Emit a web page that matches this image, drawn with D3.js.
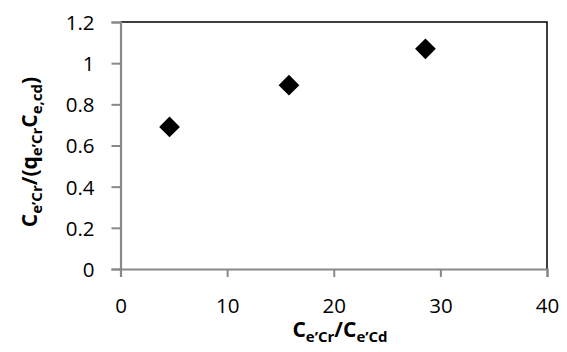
<!DOCTYPE html>
<html><head><meta charset="utf-8">
<script src="https://cdn.jsdelivr.net/npm/d3@7"></script>
<style>body{margin:0;background:#fff}svg{display:block}</style>
</head><body><svg id="c" width="567" height="352"></svg>
<script>
const xValues = [4.6, 15.8, 28.6];
const yValues = [0.69, 0.893, 1.07];
const xTicks = [0, 10, 20, 30, 40];
const yTicks = [0, 0.2, 0.4, 0.6, 0.8, 1, 1.2];

const svg = d3.select("#c");
const L = 120.5, R = 547, T = 22, B = 269;
const x = d3.scaleLinear().domain([0, 40]).range([L, R]);
const y = d3.scaleLinear().domain([0, 1.2]).range([B, T]);
const font = "'Open Sans', sans-serif";

// top and right border
svg.append("path").attr("d", `M${L},${T}H${R}V${B}`).attr("fill","none").attr("stroke","#000").attr("stroke-width",1.5);

const xAxis = svg.append("g").attr("transform", `translate(0,${B})`)
  .call(d3.axisBottom(x).tickValues(xTicks).tickSize(8).tickPadding(22).tickFormat(d3.format("d")));
const yAxis = svg.append("g").attr("transform", `translate(${L},0)`)
  .call(d3.axisLeft(y).tickValues(yTicks).tickSize(9).tickPadding(17).tickFormat(d => String(d)));
[xAxis, yAxis].forEach(g => {
  g.select(".domain").attr("stroke", "#888").attr("stroke-width", 2.2);
  g.selectAll(".tick line").attr("stroke", "#888").attr("stroke-width", 2);
  g.selectAll("text").attr("fill", "#000").attr("font-family", font).attr("font-size", 20.5);
});
yAxis.selectAll("text").attr("dy", "0.36em");
xAxis.selectAll("text").attr("dy", "0");
xAxis.selectAll(".tick text").attr("y", 44);

// points
const pts = xValues.map((v, i) => [v, yValues[i]]);
svg.append("g").selectAll("path").data(pts).join("path")
  .attr("d", d3.symbol().type(d3.symbolSquare).size(215))
  .attr("transform", d => `translate(${x(d[0])},${y(d[1])}) rotate(45)`)
  .attr("fill", "#000");

function title(sel, parts) {
  parts.forEach(p => {
    const t = sel.append("tspan").text(p[0]);
    if (p[1] === "sub") t.attr("font-size", 15).attr("dy", 5);
    else if (p[1] === "up") t.attr("dy", -5);
  });
}
const xt = svg.append("text").attr("x", 340).attr("y", 337).attr("text-anchor","middle")
  .attr("font-family", font).attr("font-size", 21).attr("font-weight", "bold");
title(xt, [["C"],["e’Cr","sub"],["/C","up"],["e’Cd","sub"]]);

const yt = svg.append("text").attr("transform", `translate(37,152) rotate(-90)`).attr("text-anchor","middle")
  .attr("font-family", font).attr("font-size", 21).attr("font-weight", "bold");
title(yt, [["C"],["e’Cr","sub"],["/(q","up"],["e’Cr","sub"],["C","up"],["e,cd","sub"],[")","up"]]);
</script></body></html>
